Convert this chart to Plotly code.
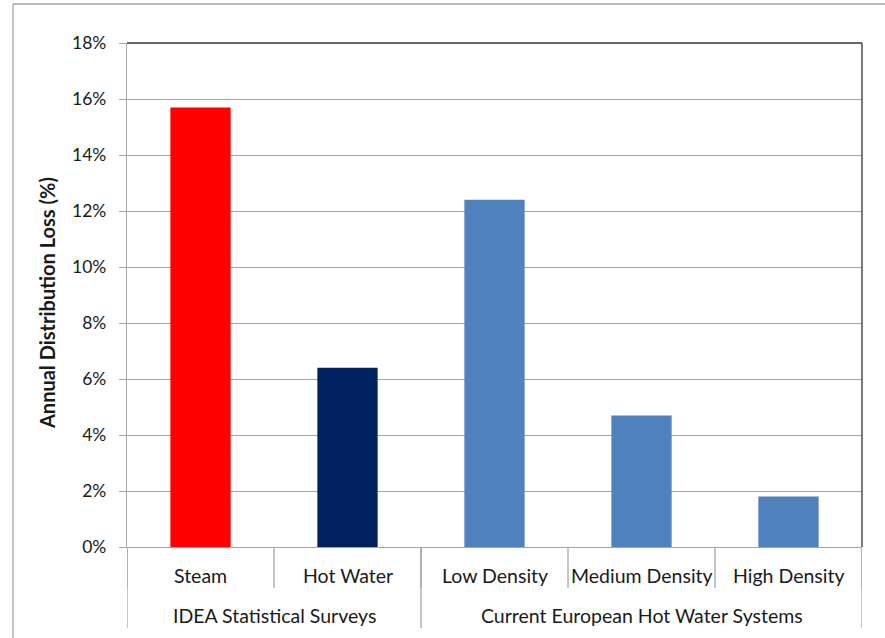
import plotly.graph_objects as go

# Annual distribution loss by system type
categories = ["Steam", "Hot Water", "Low Density", "Medium Density", "High Density"]
groups = ["IDEA Statistical Surveys", "Current European Hot Water Systems"]
group_members = [2, 3]  # number of categories in each group
loss_pct = [15.7, 6.4, 12.4, 4.7, 1.8]
bar_colors = ["#FF0000", "#002060", "#4F81BD", "#4F81BD", "#4F81BD"]

y_ticks = [0, 2, 4, 6, 8, 10, 12, 14, 16, 18]
y_tick_labels = [f"{v}%" for v in y_ticks]

FONT = "Lato, 'Open Sans', sans-serif"
TEXT = "#1a1a1a"
GRID = "#A6A6A6"

fig = go.Figure(
    go.Bar(
        x=categories,
        y=loss_pct,
        marker=dict(color=bar_colors, line=dict(width=0)),
        width=0.41,
        hoverinfo="x+y",
    )
)

# plot area geometry in pixels (used to convert to paper units)
W, H = 885, 638
L, R, T, B = 127, 862, 43, 547
pw, ph = R - L, B - T

def px_to_paper_y(py):
    return (B - py) / ph

def px_to_paper_x(px):
    return (px - L) / pw

shapes = []
# separators between categories below the axis
for i in range(len(categories) + 1):
    shapes.append(dict(type="line", xref="x", yref="paper",
                       x0=i - 0.5, x1=i - 0.5, y0=0, y1=px_to_paper_y(588),
                       line=dict(color=GRID, width=1.3)))
# group separators extend further down
edges = [-0.5]
for n in group_members:
    edges.append(edges[-1] + n)
for e in edges:
    shapes.append(dict(type="line", xref="x", yref="paper",
                       x0=e, x1=e, y0=0, y1=px_to_paper_y(628),
                       line=dict(color=GRID, width=1.3)))
# dark top and right frame of the plot area
shapes.append(dict(type="line", xref="paper", yref="paper", x0=0, x1=1, y0=1, y1=1,
                   line=dict(color="#333333", width=1.3)))
shapes.append(dict(type="line", xref="paper", yref="paper", x0=1, x1=1, y0=0, y1=1,
                   line=dict(color="#333333", width=1.3)))
# outer chart frame (left and top edges)
shapes.append(dict(type="line", xref="paper", yref="paper",
                   x0=px_to_paper_x(13), x1=px_to_paper_x(13),
                   y0=px_to_paper_y(4), y1=px_to_paper_y(640),
                   line=dict(color=GRID, width=1.3)))
shapes.append(dict(type="line", xref="paper", yref="paper",
                   x0=px_to_paper_x(13), x1=px_to_paper_x(890),
                   y0=px_to_paper_y(4), y1=px_to_paper_y(4),
                   line=dict(color=GRID, width=1.3)))

annotations = []
start = 0
for g, n in zip(groups, group_members):
    center = start + (n - 1) / 2
    annotations.append(dict(text=g, x=center, xref="x", y=px_to_paper_y(615), yref="paper",
                            showarrow=False, xanchor="center", yanchor="middle",
                            font=dict(family=FONT, size=19.5, color=TEXT)))
    start += n
for c in categories:
    annotations.append(dict(text=c, x=c, xref="x", y=px_to_paper_y(575), yref="paper",
                            showarrow=False, xanchor="center", yanchor="middle",
                            font=dict(family=FONT, size=19.5, color=TEXT)))
annotations.append(dict(text="<b>Annual Distribution Loss (%)</b>",
                        x=px_to_paper_x(47), xref="paper", y=px_to_paper_y(303), yref="paper",
                        textangle=-90, showarrow=False, xanchor="center", yanchor="middle",
                        font=dict(family=FONT, size=20, color=TEXT)))

fig.update_layout(
    width=W, height=H,
    margin=dict(l=L, r=W - R, t=T, b=H - B, pad=0),
    paper_bgcolor="white", plot_bgcolor="white",
    showlegend=False,
    bargap=0.59,
    shapes=shapes,
    annotations=annotations,
    xaxis=dict(
        type="category",
        range=[-0.5, len(categories) - 0.5],
        showticklabels=False,
        ticks="",
        showgrid=False,
        showline=True, linecolor=GRID, linewidth=1.3,
        zeroline=False,
        fixedrange=True,
    ),
    yaxis=dict(
        range=[0, 18],
        tickvals=y_ticks,
        ticktext=y_tick_labels,
        ticks="outside", ticklen=7, tickcolor=GRID, tickwidth=1.3,
        ticklabelstandoff=9,
        showgrid=True, gridcolor=GRID, gridwidth=1.3,
        showline=True, linecolor=GRID, linewidth=1.3,
        zeroline=False,
        tickfont=dict(family=FONT, size=17.5, color=TEXT),
        fixedrange=True,
    ),
)

fig.write_html("out.html")
